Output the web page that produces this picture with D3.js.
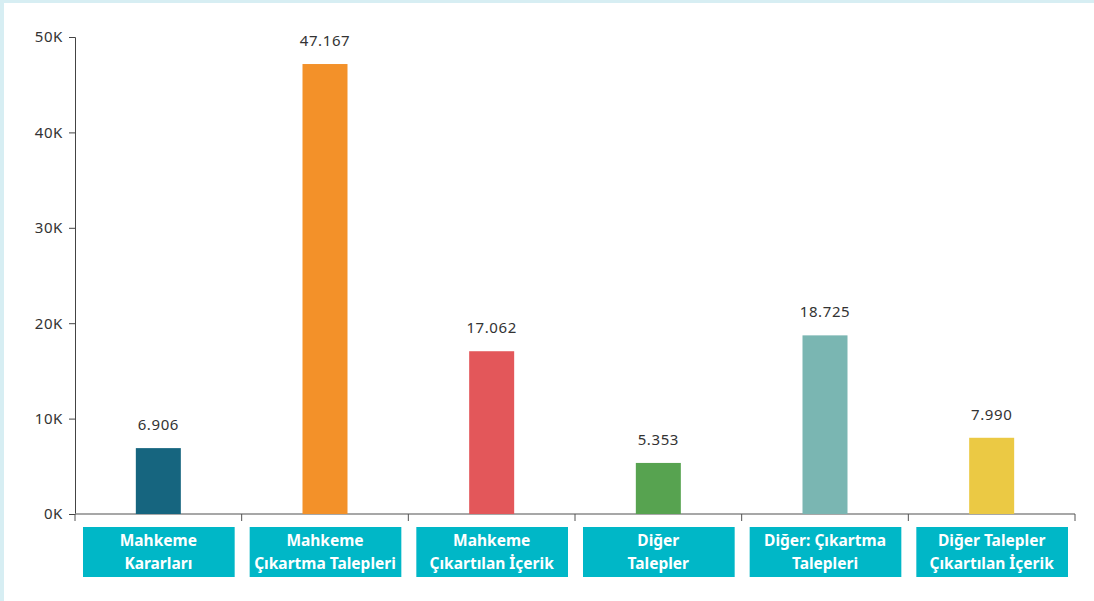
<!DOCTYPE html>
<html>
<head>
<meta charset="utf-8">
<script src="https://cdn.jsdelivr.net/npm/d3@7"></script>
<style>
  html, body { margin: 0; padding: 0; background: #d7eef3; }
  #chart { position: absolute; left: 4px; top: 3px; width: 1090px; height: 598px; background: #fff; }
</style>
</head>
<body>
<div id="chart"></div>
<script>
// chart data
const categories = [
  ['Mahkeme', 'Kararları'],
  ['Mahkeme', 'Çıkartma Talepleri'],
  ['Mahkeme', 'Çıkartılan İçerik'],
  ['Diğer', 'Talepler'],
  ['Diğer: Çıkartma', 'Talepleri'],
  ['Diğer Talepler', 'Çıkartılan İçerik']
];
const values = [6906, 47167, 17062, 5353, 18725, 7990];
const colors = ['#16657f', '#f39129', '#e3575a', '#57a350', '#7ab6b2', '#ebc944'];
const yTicks = [0, 10000, 20000, 30000, 40000, 50000];

const width = 1090, height = 598;
const margin = { top: 34, right: 19, bottom: 87, left: 71 };

const svg = d3.select('#chart')
  .append('svg')
  .attr('width', width)
  .attr('height', height);

const g = svg.append('g')
  .attr('transform', `translate(${margin.left},${margin.top})`);

const innerW = width - margin.left - margin.right;
const innerH = height - margin.top - margin.bottom;

const x = d3.scaleBand()
  .domain(d3.range(values.length))
  .range([0, innerW])
  .paddingInner(0)
  .paddingOuter(0);

const y = d3.scaleLinear()
  .domain([0, 50000])
  .range([innerH, 0]);

// y axis
const yAxis = g.append('g')
  .call(d3.axisLeft(y)
    .tickValues(yTicks)
    .tickSize(6)
    .tickPadding(6)
    .tickFormat(d => (d / 1000) + 'K'));
yAxis.select('.domain').attr('stroke', '#444');
yAxis.selectAll('.tick line').attr('stroke', '#444');
yAxis.selectAll('text')
  .attr('font-family', 'Noto Sans, sans-serif')
  .attr('font-size', 15)
  .attr('letter-spacing', 0.6)
  .attr('fill', '#333');

// x axis line + band edge ticks
const edges = d3.range(values.length + 1).map(i => i * x.step());
g.append('line')
  .attr('x1', 0).attr('x2', innerW)
  .attr('y1', innerH).attr('y2', innerH)
  .attr('stroke', '#8a8a8a')
  .attr('stroke-width', 1.5);
g.selectAll('.xtick')
  .data(edges)
  .enter().append('line')
  .attr('class', 'xtick')
  .attr('x1', d => d).attr('x2', d => d)
  .attr('y1', innerH).attr('y2', innerH + 7)
  .attr('stroke', '#555');

// bars
const barW = 45;
g.selectAll('.bar')
  .data(values)
  .enter().append('rect')
  .attr('class', 'bar')
  .attr('x', (d, i) => x(i) + x.bandwidth() / 2 - barW / 2)
  .attr('y', d => y(d))
  .attr('width', barW)
  .attr('height', d => innerH - y(d))
  .attr('fill', (d, i) => colors[i]);

// value labels
g.selectAll('.val')
  .data(values)
  .enter().append('text')
  .attr('class', 'val')
  .attr('x', (d, i) => x(i) + x.bandwidth() / 2)
  .attr('y', d => y(d) - 18)
  .attr('text-anchor', 'middle')
  .attr('font-family', 'Noto Sans, sans-serif')
  .attr('font-size', 15)
  .attr('letter-spacing', 0.6)
  .attr('fill', '#333')
  .text(d => d3.format(',')(d).replace(/,/g, '.'));

// category boxes
const boxPad = 8;
const cat = g.selectAll('.cat')
  .data(categories)
  .enter().append('g')
  .attr('class', 'cat')
  .attr('transform', (d, i) => `translate(${x(i)},${innerH + 13})`);
cat.append('rect')
  .attr('x', boxPad)
  .attr('width', x.bandwidth() - boxPad * 2 + 1)
  .attr('height', 50)
  .attr('fill', '#00b7c7');
cat.each(function(d) {
  const t = d3.select(this).append('text')
    .attr('text-anchor', 'middle')
    .attr('font-family', 'Noto Sans, sans-serif')
    .attr('font-weight', 'bold')
    .attr('font-size', 15.5)
    .attr('fill', '#fff');
  d.forEach((line, k) => {
    t.append('tspan')
      .attr('x', x.bandwidth() / 2)
      .attr('y', 19 + k * 23)
      .text(line);
  });
});
</script>
</body>
</html>
